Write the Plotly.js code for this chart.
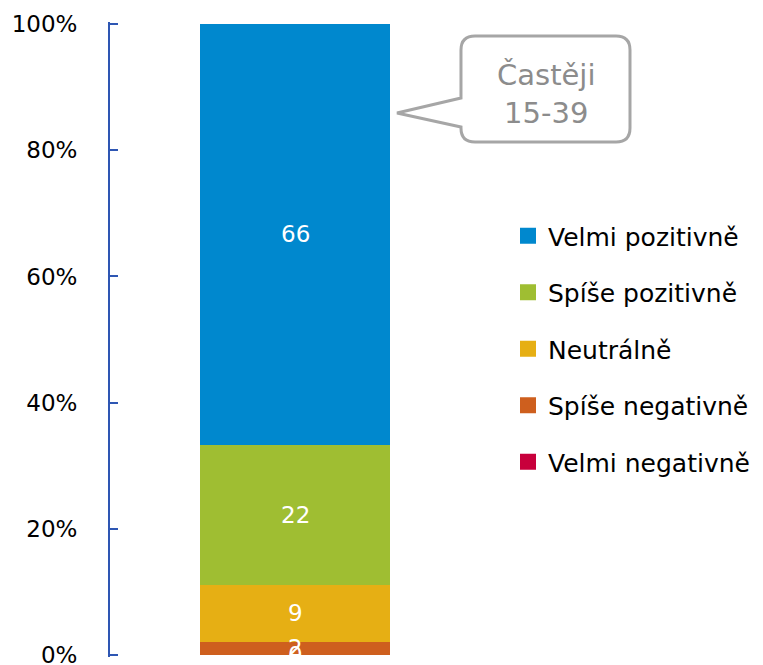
<!DOCTYPE html>
<html>
<head>
<meta charset="utf-8">
<script src="https://cdn.plot.ly/plotly-3.0.1.min.js"></script>
<style>html,body{margin:0;padding:0;background:#fff;}#chart{width:763px;height:665px;}</style>
</head>
<body>
<div id="chart"></div>
<script>
// ---- data ----
const categories = ['Častěji 15-39'];
const seriesNames = ['Velmi negativně', 'Spíše negativně', 'Neutrálně', 'Spíše pozitivně', 'Velmi pozitivně'];
const seriesValues = [0, 2, 9, 22, 66];
const seriesColors = ['#C8003C', '#CE5F1E', '#E6AF14', '#9FBE32', '#0088CE'];
const yTickVals = [0, 20, 40, 60, 80, 100];
const yTickText = ['0%', '20%', '40%', '60%', '80%', '100%'];
const calloutText = 'Častěji<br>15-39';

// ---- geometry ----
const W = 763, H = 665;
const M = {l: 110, r: 283, t: 22, b: 8, autoexpand: false};
const PW = W - M.l - M.r, PH = H - M.t - M.b;
const px = x => (x - M.l) / PW;
const py = y => (H - M.b - y) / PH;
const P = (x, y) => px(x).toFixed(4) + ',' + py(y).toFixed(4);

const font = 'DejaVu Sans, sans-serif';

const barTraces = seriesNames.map((name, i) => ({
  type: 'bar',
  name: name,
  x: categories,
  y: [seriesValues[i]],
  marker: {color: seriesColors[i], line: {width: 0}},
  width: 0.514,
  showlegend: false,
  hoverinfo: 'name+y'
}));

// legend entries with larger square swatches
const legendTraces = seriesNames.map((name, i) => ({
  type: 'scatter',
  mode: 'markers',
  name: name,
  x: [null], y: [null],
  marker: {symbol: 'square', size: 17, color: seriesColors[i]},
  legendgroup: 'g' + i,
  legendrank: 1000 - i,
  showlegend: true,
  hoverinfo: 'skip'
}));

// data labels, positioned in normalized percent through the y axis
const total = seriesValues.reduce((a, b) => a + b, 0);
let base = 0;
const labelAnns = [];
seriesValues.forEach((v, i) => {
  const pct = v / total * 100;
  labelAnns.push({
    x: categories[0], y: base + pct / 2, xref: 'x', yref: 'y',
    text: String(v), showarrow: false,
    font: {family: font, size: 23, color: '#FFFFFF'},
    xanchor: 'center', yanchor: 'middle'
  });
  base += pct;
});

// callout shape
const r = 14, L = 461, R = 630, T = 36, B = 142;
const path = 'M' + P(L + r, T) + ' L' + P(R - r, T) + ' Q' + P(R, T) + ' ' + P(R, T + r) +
  ' L' + P(R, B - r) + ' Q' + P(R, B) + ' ' + P(R - r, B) +
  ' L' + P(L + r, B) + ' Q' + P(L, B) + ' ' + P(L, B - r) +
  ' L' + P(L, 127) + ' L' + P(397, 113) + ' L' + P(L, 98) +
  ' L' + P(L, T + r) + ' Q' + P(L, T) + ' ' + P(L + r, T) + ' Z';

const layout = {
  width: W, height: H,
  margin: M,
  paper_bgcolor: '#FFFFFF', plot_bgcolor: '#FFFFFF',
  barmode: 'stack',
  barnorm: 'percent',
  showlegend: true,
  legend: {
    x: px(508), y: py(213), xanchor: 'left', yanchor: 'top',
    traceorder: 'grouped', tracegroupgap: 21,
    font: {family: font, size: 25, color: '#000000'},
    bgcolor: 'rgba(0,0,0,0)'
  },
  xaxis: {visible: false, range: [-0.5, 0.5], fixedrange: true},
  yaxis: {
    range: [-0.35, 100.35],
    tickvals: yTickVals, ticktext: yTickText,
    showgrid: false, zeroline: false,
    showline: true, linecolor: '#2E56B3', linewidth: 2,
    ticks: 'inside', ticklen: 8, tickcolor: '#2E56B3', tickwidth: 2,
    ticklabelstandoff: 26,
    ticklabeloverflow: 'allow',
    tickfont: {family: font, size: 23, color: '#000000'}
  },
  shapes: [{
    type: 'path', xref: 'paper', yref: 'paper', path: path,
    line: {color: '#A6A6A6', width: 3}, fillcolor: '#FFFFFF', layer: 'above'
  }],
  annotations: labelAnns.concat([{
    xref: 'paper', yref: 'paper', x: px(546), y: py(94),
    text: calloutText, showarrow: false,
    font: {family: font, size: 29, color: '#8C8C8C'},
    xanchor: 'center', yanchor: 'middle', align: 'center'
  }])
};

Plotly.newPlot('chart', barTraces.concat(legendTraces), layout, {displayModeBar: false, staticPlot: true});
</script>
</body>
</html>
